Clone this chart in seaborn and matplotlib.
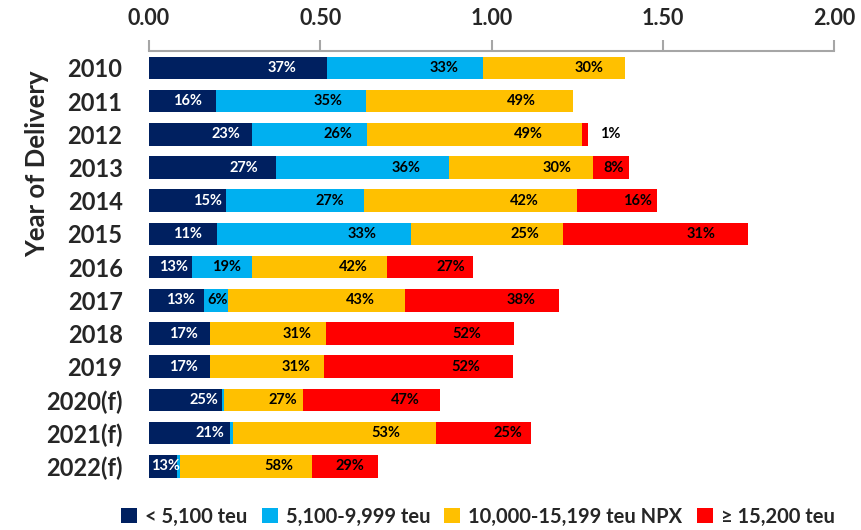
import numpy as np
import pandas as pd
import matplotlib.pyplot as plt
import seaborn as sns
from matplotlib.patches import Patch

# capacity delivered per year (million teu), by ship size
years = ['2010', '2011', '2012', '2013', '2014', '2015', '2016', '2017',
         '2018', '2019', '2020(f)', '2021(f)', '2022(f)']
lt_5100 = [0.519, 0.196, 0.301, 0.371, 0.226, 0.199, 0.125, 0.160, 0.179, 0.179, 0.214, 0.237, 0.083]
mid_size = [0.457, 0.436, 0.335, 0.506, 0.401, 0.565, 0.176, 0.071, 0.0, 0.0, 0.004, 0.007, 0.008]
npx_size = [0.412, 0.605, 0.628, 0.419, 0.623, 0.445, 0.394, 0.515, 0.337, 0.332, 0.231, 0.595, 0.386]
big_size = [0.0, 0.0, 0.016, 0.105, 0.233, 0.538, 0.250, 0.452, 0.549, 0.551, 0.400, 0.277, 0.192]

# share labels as printed on the bars
pct_lt = ['37%', '16%', '23%', '27%', '15%', '11%', '13%', '13%', '17%', '17%', '25%', '21%', '13%']
pct_mid = ['33%', '35%', '26%', '36%', '27%', '33%', '19%', '6%', '', '', '', '', '']
pct_npx = ['30%', '49%', '49%', '30%', '42%', '25%', '42%', '43%', '31%', '31%', '27%', '53%', '58%']
pct_big = ['', '', '1%', '8%', '16%', '31%', '27%', '38%', '52%', '52%', '47%', '25%', '29%']

series_names = ['< 5,100 teu', '5,100-9,999 teu', '10,000-15,199 teu NPX', '\u2265 15,200 teu']
colors = ['#002060', '#00B0F0', '#FFC000', '#FF0000']
label_colors = ['white', 'black', 'black', 'black']

sns.set_style('white')
plt.rcParams['font.family'] = ['Lato', 'DejaVu Sans']
plt.rcParams['font.weight'] = 'bold'

fig = plt.figure(figsize=(8.61, 5.30), dpi=100)
ax = fig.add_axes([0.173, 0.0887, 0.796, 0.815])

seg = np.array([lt_5100, mid_size, npx_size, big_size])
cum = seg.cumsum(axis=0)

# stacked bars: draw cumulative totals from the outermost layer inwards
for k in range(3, -1, -1):
    df = pd.DataFrame({'year': years, 'value': cum[k]})
    sns.barplot(data=df, x='value', y='year', color=colors[k], orient='h',
                width=0.68, saturation=1, errorbar=None, linewidth=0, ax=ax)

# percent labels
labels = [pct_lt, pct_mid, pct_npx, pct_big]
for k in range(4):
    for i in range(len(years)):
        txt = labels[k][i]
        if not txt:
            continue
        left = cum[k][i] - seg[k][i]
        w = seg[k][i]
        if w < 0.03:
            x, ha = cum[k][i] + 0.035, 'left'
        elif w < 0.2:
            x, ha = left + 0.57 * w, 'center'
        else:
            x, ha = left + 0.75 * w, 'center'
        ax.text(x, i, txt, ha=ha, va='center', fontsize=10.5,
                fontweight='bold', color=label_colors[k])

ax.set_xlim(0, 2.0)
ax.set_ylim(12.5, -0.51)
ax.set_xticks(np.arange(0, 2.01, 0.5))
ax.xaxis.set_major_formatter('{x:.2f}')
ax.xaxis.tick_top()
ax.set_xlabel('')
ax.set_ylabel('')
ax.tick_params(axis='x', top=True, bottom=False, direction='out', length=8,
               width=1.5, color='#A6A6A6', labelsize=15.5, pad=8)
ax.tick_params(axis='y', length=0, labelsize=17, pad=19)
for lab in ax.get_xticklabels() + ax.get_yticklabels():
    lab.set_fontweight('bold')

for s in ['left', 'right', 'bottom']:
    ax.spines[s].set_visible(False)
ax.spines['top'].set_color('#A6A6A6')
ax.spines['top'].set_linewidth(1.5)

fig.text(37 / 861, 1 - 164 / 530, 'Year of Delivery', rotation=90,
         ha='center', va='center', fontsize=18.5, fontweight='bold')

handles = [Patch(facecolor=c, edgecolor='none') for c in colors]
fig.legend(handles, series_names, loc='center', bbox_to_anchor=(0.555, 0.025),
           ncol=4, frameon=False, fontsize=14.5, handlelength=0.8, handleheight=0.8,
           handletextpad=0.4, columnspacing=0.7, borderpad=0)

fig.savefig('out.png', dpi=100)
